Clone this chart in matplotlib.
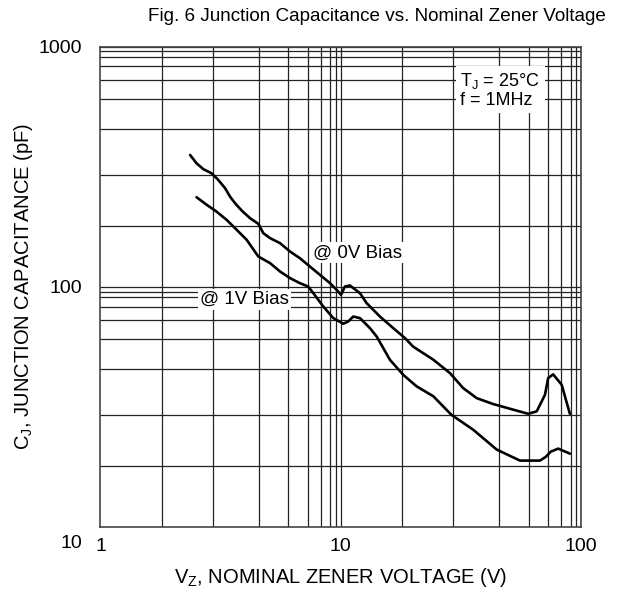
import numpy as np
import matplotlib
matplotlib.use("Agg")
import matplotlib.pyplot as plt
from matplotlib.transforms import ScaledTranslation

plt.rcParams['font.family'] = ['Liberation Sans', 'DejaVu Sans']
plt.rcParams['mathtext.fontset'] = 'custom'
plt.rcParams['mathtext.rm'] = 'Liberation Sans'

# @ 0V bias curve
vz_0v = [2.36, 2.51, 2.68, 2.9, 3.09, 3.3, 3.46, 3.63, 3.87, 4.19, 4.54, 4.76,
         5.08, 5.59, 6.15, 6.76, 7.44, 8.19, 9.02, 9.76, 10.02, 10.41, 10.92,
         12.02, 12.82, 14.56, 16.54, 18.5, 20.0, 24.3, 28.5, 32.3, 36.8, 43.1,
         52.2, 60.3, 65.4, 70.8, 73.0, 76.6, 83.1, 89.9]
cj_0v = [354, 327, 309, 297, 279, 257.5, 237.6, 223, 207.8, 193.2, 182.9, 167.3,
         159.5, 152, 140.3, 131.6, 121.5, 112.2, 103.6, 95.6, 92.6, 100.3, 101.3,
         94.1, 85.5, 75.2, 67.3, 61.2, 56.4, 49.7, 43.7, 37.9, 34.4, 32.5,
         30.8, 29.6, 30.3, 35.5, 41.7, 43.2, 39.1, 29.6]

# @ 1V bias curve
vz_1v = [2.51, 2.77, 3.04, 3.35, 3.69, 4.06, 4.54, 5.08, 5.59, 6.15, 6.76, 7.32,
         7.69, 8.46, 9.31, 10.24, 10.74, 11.27, 12.02, 13.23, 14.11, 16.02, 18.2,
         20.7, 24.3, 28.9, 35.6, 44.6, 55.7, 67.5, 71.4, 74.9, 80.4, 89.9]
cj_1v = [236.2, 219.4, 205.8, 190.0, 172.7, 156.9, 133.7, 125.5, 115.8, 108.7, 103.6, 100.3,
         94.1, 82.8, 74.1, 70.2, 71.7, 75.2, 74.1, 67.3, 62.1, 49.7, 43.0,
         38.5, 35.0, 29.3, 25.4, 21.0, 18.9, 18.9, 19.6, 20.6, 21.2, 20.2]

# grid lines inside each decade (as drawn on the datasheet)
grid_steps = [1.8, 2.93, 4.55, 6.05, 7.28, 8.28, 9.05, 9.55]

fig = plt.figure(figsize=(6.34, 6.0), dpi=100)
ax = fig.add_axes([0.1585, 0.1217, 0.7579, 0.8005])
ax.set_xscale('log')
ax.set_yscale('log')
ax.set_xlim(1, 100)
ax.set_ylim(10, 1000)

for dec in [1, 10]:
    for s in grid_steps + [10]:
        ax.axvline(dec * s, color='#222222', lw=0.9, zorder=1)
for dec in [10, 100]:
    for s in grid_steps + [10]:
        ax.axhline(dec * s, color='#222222', lw=0.9, zorder=1)

ax.plot(vz_0v, cj_0v, color='black', lw=1.9, zorder=3,
        solid_joinstyle='round', solid_capstyle='round')
ax.plot(vz_1v, cj_1v, color='black', lw=1.9, zorder=3,
        solid_joinstyle='round', solid_capstyle='round')

box = dict(facecolor='white', edgecolor='none', pad=1.5)
ax.text(7.66, 138.5, '@ 0V Bias', fontsize=13.5, va='center', ha='left', bbox=box, zorder=4)
ax.text(2.6, 88.3, '@ 1V Bias', fontsize=13.5, va='center', ha='left', bbox=box, zorder=4)
ax.text(31.5, 660, 'T$_\\mathregular{J}$ = 25°C\nf = 1MHz', fontsize=13, va='center',
        ha='left', linespacing=1.05, bbox=dict(facecolor='white', edgecolor='none', pad=3), zorder=4)

ax.set_xticks([1, 10, 100])
ax.set_xticklabels(['1', '10', '100'])
ax.set_yticks([10, 100, 1000])
ax.set_yticklabels(['10', '100', '1000'])
ax.minorticks_off()
ax.tick_params(length=0, labelsize=14)
ax.tick_params(axis='x', pad=8)
ax.tick_params(axis='y', pad=13)
for sp in ax.spines.values():
    sp.set_color('#444444')
    sp.set_linewidth(1.2)

# the "10" label sits a little below the bottom edge in the original
lab10 = ax.get_yticklabels()[0]
lab10.set_transform(lab10.get_transform() + ScaledTranslation(0, -0.15, fig.dpi_scale_trans))

ax.set_xlabel('V$_\\mathregular{Z}$, NOMINAL ZENER VOLTAGE (V)', fontsize=14.5, labelpad=8)
ax.set_ylabel('C$_\\mathregular{J}$, JUNCTION CAPACITANCE (pF)', fontsize=14.5, labelpad=3)
fig.text(0.956, 0.972, 'Fig. 6 Junction Capacitance vs. Nominal Zener Voltage',
         fontsize=13.6, ha='right', va='center')

fig.savefig('out.png', dpi=100)
